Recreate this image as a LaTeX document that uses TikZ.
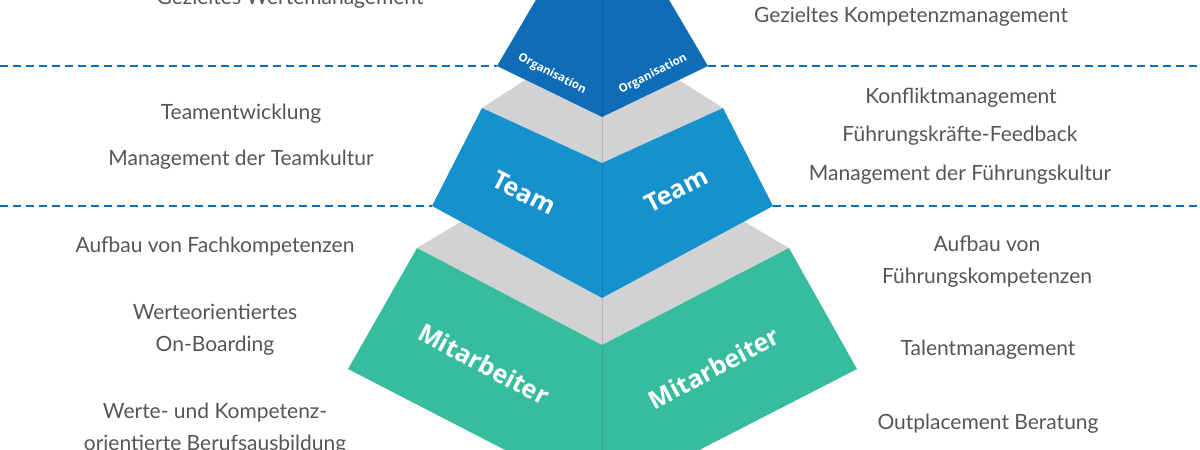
\documentclass[tikz,border=0pt]{standalone}
\usepackage{fontspec}
\setmainfont{Lato}
\newfontfamily\labelfont{Open Sans}[BoldFont={* Bold}]
\usetikzlibrary{positioning}
\definecolor{orgblue}{HTML}{0F6CB6}
\definecolor{teamblue}{HTML}{1591CD}
\definecolor{staffgreen}{HTML}{38BC9E}
\definecolor{bandgray}{HTML}{D1D2D4}
\definecolor{txtgray}{HTML}{555555}
\begin{document}
\begin{tikzpicture}[
		x=1pt, y=-1pt,
		every node/.style={font=\fontsize{21}{32}\selectfont, text=txtgray, align=center},
		% dashed separators
		sep/.style={dashed, orgblue, line width=2.2pt, dash pattern=on 8pt off 5pt},
		% white labels on the layers
		layer/.style={text=white, font=\labelfont\bfseries\fontsize{#1}{#1}\selectfont}
		]
		\useasboundingbox (0,0) rectangle (1200,450);
		\clip (0,0) rectangle (1200,450);
		
		% === LAYERS ===
		\fill[bandgray] (525,80) -- (602,117) -- (679,80) -- (723,108) -- (602,163) -- (482,108) -- cycle;
		\fill[bandgray] (462,221) -- (602,298) -- (743,221) -- (789,248) -- (602,345) -- (417,248) -- cycle;
		\fill[orgblue] (537,-2) -- (668,-2) -- (708,66) -- (602,117) -- (497,66) -- cycle;
		\fill[teamblue] (482,108) -- (602,163) -- (723,108) -- (773,206) -- (602,298) -- (432,206) -- cycle;
		\fill[staffgreen] (417,248) -- (602,345) -- (789,248) -- (857,369) -- (602,500) -- (348,369) -- cycle;
		\draw[black, opacity=0.12] (602,0) -- (602,450);
		
		% === SEPARATORS ===
		\draw[sep] (0,66) -- (497,66);
		\draw[sep] (708,66) -- (1200,66);
		\draw[sep] (0,206) -- (432,206);
		\draw[sep] (773,206) -- (1200,206);
		
		% === LAYER LABELS ===
		\node[layer=11.5, rotate=-27] (orgL) at (552,74) {Organisation};
		\node[layer=11.5, rotate=27] (orgR) at (653,74) {Organisation};
		\node[layer=25, rotate=-27] (teamL) at (524,193) {Team};
		\node[layer=25, rotate=27] (teamR) at (676,190) {Team};
		\node[layer=25, rotate=-28] (staffL) at (484,364) {Mitarbeiter};
		\node[layer=25, rotate=28] (staffR) at (714,368) {Mitarbeiter};
		
		% === LEFT TEXTS ===
		\node (wert) at (290,-1) {Gezieltes Wertemanagement};
		\node (teamdev) at (241,114) {Teamentwicklung};
		\node (teamkult) at (241,160) {Management der Teamkultur};
		\node (fach) at (215,246) {Aufbau von Fachkompetenzen};
		\node (onboard) at (215,330) {Werteorientiertes\\On-Boarding};
		\node (ausb) at (215,429) {Werte- und Kompetenz-\\orientierte Berufsausbildung};
		
		% === RIGHT TEXTS ===
		\node (komp) at (911,17) {Gezieltes Kompetenzmanagement};
		\node (konflikt) at (961,98) {Konfliktmanagement};
		\node (feedback) at (960,136) {Führungskräfte-Feedback};
		\node (fkult) at (960,175) {Management der Führungskultur};
		\node (fkomp) at (987,262) {Aufbau von\\Führungskompetenzen};
		\node (talent) at (988,350) {Talentmanagement};
		\node (outpl) at (988,424) {Outplacement Beratung};
	\end{tikzpicture}
\end{document}
